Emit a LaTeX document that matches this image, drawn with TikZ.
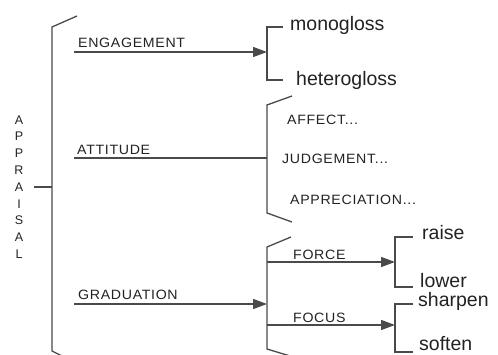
\documentclass[tikz,border=0pt]{standalone}
\usepackage{fontspec}
\setmainfont{Liberation Sans}
\newfontfamily\capsfont[FakeStretch=1.05,LetterSpace=5]{Liberation Sans}
\usetikzlibrary{arrows.meta}
\definecolor{ink}{HTML}{222222}
\definecolor{linec}{HTML}{4A4A4A}
\tikzset{
  x=1pt,y=-1pt,
  ln/.style={draw=linec,line width=1.3pt},
  arr/.style={ln,-{Triangle[length=14pt,width=10pt]}},
  capl/.style={text=ink,font=\capsfont\fontsize{13.5}{15}\selectfont,inner sep=0pt,anchor=west},
  lowl/.style={text=ink,font=\fontsize{19.5}{22}\selectfont,inner sep=0pt,anchor=base west},
}
\begin{document}
\begin{tikzpicture}
\useasboundingbox (0,0) rectangle (498,355);
% main bracket
\coordinate (mtop) at (77,16);
\coordinate (mt) at (52,27);
\coordinate (mb) at (52,351);
\coordinate (mbot) at (62,356);
\draw[ln] (mtop) -- (mt) -- (mb) -- (mbot);
\node[text=ink,font=\fontsize{12.5}{16.8}\selectfont,align=center,inner sep=0pt] (appr) at (19,187)
 {A\\P\\P\\R\\A\\I\\S\\A\\L};
\coordinate (mtick) at (52,187);
\draw[ln] (34,187) -- (mtick);
% engagement
\node[capl] (eng) at (78,43) {ENGAGEMENT};
\coordinate (engs) at (74,52);
\coordinate (engt) at (267,52);
\draw[arr] (engs) -- (engt);
\coordinate (eb1) at (267,27);
\coordinate (eb2) at (267,80);
\draw[ln] (283,27) -- (eb1) -- (eb2) -- (283,80);
\node[lowl] (mono) at (290,31) {monogloss};
\node[lowl] (hetero) at (296,86) {heterogloss};
% attitude
\node[capl] (att) at (77,150) {ATTITUDE};
\coordinate (atts) at (74,158);
\coordinate (attt) at (267,158);
\draw[ln] (atts) -- (attt);
\draw[ln] (292,96) -- (267,105) -- (267,213) -- (292,222);
\node[capl] (aff) at (287,120) {AFFECT...};
\node[capl] (judg) at (282,159) {JUDGEMENT...};
\node[capl] (appre) at (290,200) {APPRECIATION...};
% graduation
\node[capl] (grad) at (78,295) {GRADUATION};
\coordinate (grads) at (74,304);
\coordinate (gradt) at (267,304);
\draw[arr] (grads) -- (gradt);
\draw[ln] (291,237) -- (267,247) -- (267,349) -- (290,356);
% force
\node[capl] (force) at (293,255) {FORCE};
\coordinate (fs) at (267,262);
\coordinate (ft) at (395,262);
\draw[arr] (fs) -- (ft);
\draw[ln] (413,237) -- (395,237) -- (395,287) -- (413,287);
\node[lowl] (raise) at (422,240) {raise};
\node[lowl] (lower) at (420,288) {lower};
% focus
\node[capl] (focus) at (293,318) {FOCUS};
\coordinate (cs) at (267,325);
\coordinate (ct) at (395,325);
\draw[arr] (cs) -- (ct);
\draw[ln] (413,304) -- (395,304) -- (395,352) -- (413,352);
\node[lowl] (sharpen) at (418,307) {sharpen};
\node[lowl] (soften) at (419,350) {soften};
\end{tikzpicture}
\end{document}
